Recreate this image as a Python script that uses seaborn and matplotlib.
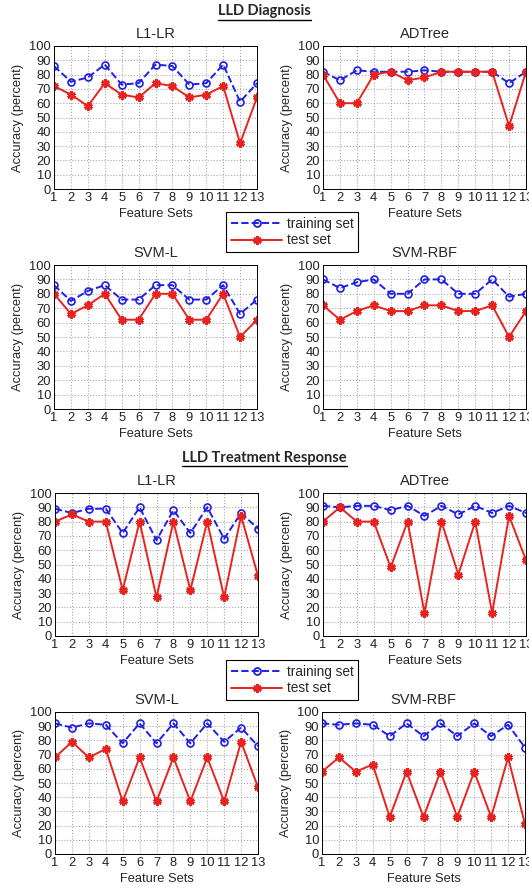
import matplotlib
matplotlib.use("Agg")
import matplotlib.pyplot as plt
import seaborn as sns
from matplotlib.lines import Line2D

# x axis: the 13 feature sets
feature_sets = list(range(1, 14))

# LLD Diagnosis
diag_l1lr_train = [86, 75, 78, 87, 73, 74, 87, 86, 73, 74, 87, 61, 74]
diag_l1lr_test = [72, 66, 58, 74, 66, 64, 74, 72, 64, 66, 72, 32, 64]
diag_adtree_train = [82, 76, 83, 82, 82, 82, 83, 82, 82, 82, 82, 74, 82]
diag_adtree_test = [80, 60, 60, 80, 82, 76, 78, 82, 82, 82, 82, 44, 82]
diag_svml_train = [86, 75, 82, 86, 76, 76, 86, 86, 76, 76, 86, 66, 76]
diag_svml_test = [80, 66, 72, 80, 62, 62, 80, 80, 62, 62, 80, 50, 62]
diag_svmrbf_train = [90, 84, 88, 90, 80, 80, 90, 90, 80, 80, 90, 78, 80]
diag_svmrbf_test = [72, 62, 68, 72, 68, 68, 72, 72, 68, 68, 72, 50, 68]

# LLD Treatment Response
resp_l1lr_train = [89, 86, 89, 89, 72, 90, 67, 88, 72, 90, 68, 86, 75]
resp_l1lr_test = [80, 85, 80, 80, 32, 80, 27, 80, 32, 80, 27, 84, 42]
resp_adtree_train = [91, 90, 91, 91, 88, 91, 84, 91, 85, 91, 86, 91, 86]
resp_adtree_test = [80, 90, 80, 80, 48, 80, 16, 80, 43, 80, 16, 84, 53]
resp_svml_train = [92, 89, 92, 91, 78, 92, 78, 92, 78, 92, 79, 89, 76]
resp_svml_test = [68, 79, 68, 74, 37, 68, 37, 68, 37, 68, 37, 79, 47]
resp_svmrbf_train = [92, 91, 92, 91, 83, 92, 83, 92, 83, 92, 83, 91, 75]
resp_svmrbf_test = [58, 68, 58, 63, 26, 58, 26, 58, 26, 58, 26, 68, 21]

BLUE = "#1f1fe6"
RED = "#e8231f"
STAR = (6, 2, 0)

sns.set_style("whitegrid")
plt.rcParams["font.family"] = ["Liberation Sans", "DejaVu Sans"]

fig = plt.figure(figsize=(5.29, 8.9), dpi=100)

W, H = 529.0, 890.0
panels = [
    # (left px, top px, bottom px, title, train, test)
    (54, 46, 189, "L1-LR", diag_l1lr_train, diag_l1lr_test),
    (323, 46, 189, "ADTree", diag_adtree_train, diag_adtree_test),
    (54, 265, 409, "SVM-L", diag_svml_train, diag_svml_test),
    (323, 265, 409, "SVM-RBF", diag_svmrbf_train, diag_svmrbf_test),
    (55, 493, 636, "L1-LR", resp_l1lr_train, resp_l1lr_test),
    (323, 493, 636, "ADTree", resp_adtree_train, resp_adtree_test),
    (55, 712, 854, "SVM-L", resp_svml_train, resp_svml_test),
    (322, 712, 854, "SVM-RBF", resp_svmrbf_train, resp_svmrbf_test),
]

for left, top, bottom, title, train, test in panels:
    ax = fig.add_axes([left / W, 1 - bottom / H, 203 / W, (bottom - top) / H])
    sns.lineplot(x=feature_sets, y=train, ax=ax, color=BLUE, linestyle="--",
                 linewidth=1.4, marker="o", markersize=5, markerfacecolor="none",
                 markeredgecolor=BLUE, markeredgewidth=1.2)
    sns.lineplot(x=feature_sets, y=test, ax=ax, color=RED, linewidth=1.4,
                 marker=STAR, markersize=6, markeredgecolor=RED, markeredgewidth=2.0)
    ax.set_xlim(1, 13)
    ax.set_ylim(0, 100)
    ax.set_xticks(feature_sets)
    ax.set_yticks(range(0, 101, 10))
    ax.grid(True, linestyle=":", color="#a8a8a8", linewidth=0.8)
    for sp in ax.spines.values():
        sp.set_color("black")
        sp.set_linewidth(0.7)
    ax.tick_params(direction="in", length=3, width=0.6, labelsize=9.3, pad=2,
                   colors="#222222")
    ax.set_title(title, fontsize=10.5, pad=6)
    ax.set_ylabel("Accuracy (percent)", fontsize=9.3, labelpad=4)
    ax.set_xlabel("Feature Sets", fontsize=9.3, labelpad=3)

# section headers with underline
fig.canvas.draw()
renderer = fig.canvas.get_renderer()
for ypx, text in [(11, "LLD Diagnosis"), (458, "LLD Treatment Response")]:
    t = fig.text(0.5, 1 - ypx / H, text, ha="center", va="center",
                 fontsize=10.5, fontweight="bold", family=["Lato", "DejaVu Sans"])
    bb = t.get_window_extent(renderer=renderer)
    yline = bb.y0 - 1.5
    fig.add_artist(Line2D([bb.x0 / W, bb.x1 / W],
                          [yline / H, yline / H], color="black", linewidth=1.0,
                          transform=fig.transFigure))

# legends
handles = [
    Line2D([], [], color=BLUE, linestyle="--", linewidth=1.4, marker="o",
           markersize=5, markerfacecolor="none", markeredgecolor=BLUE,
           markeredgewidth=1.3, label="training set"),
    Line2D([], [], color=RED, linewidth=1.4, marker=STAR, markersize=6,
           markeredgecolor=RED, markeredgewidth=2.0, label="test set"),
]
for cy in [232, 680]:
    leg = fig.legend(handles=handles, loc="center",
                     bbox_to_anchor=(292 / W, 1 - cy / H), fontsize=9.8,
                     handlelength=3.8, handletextpad=0.3, labelspacing=0.2,
                     borderpad=0.35, fancybox=False, framealpha=1,
                     edgecolor="black")
    leg.get_frame().set_linewidth(0.8)

fig.savefig("out.png", dpi=100)
